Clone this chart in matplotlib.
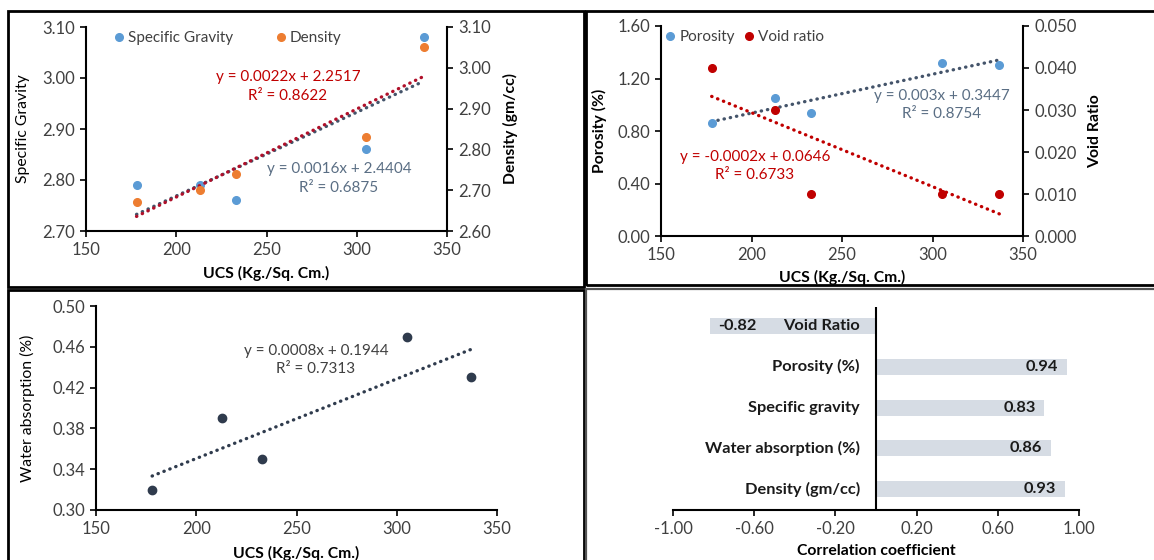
import numpy as np
import matplotlib
matplotlib.use("Agg")
import matplotlib.pyplot as plt
from matplotlib.lines import Line2D
from matplotlib.patches import Rectangle

plt.rcParams['font.family'] = ['Lato', 'DejaVu Sans']

# ---------------- data ----------------
ucs = [178, 213, 233, 305, 337]
specific_gravity = [2.79, 2.79, 2.76, 2.86, 3.08]
density = [2.67, 2.70, 2.74, 2.83, 3.05]
porosity = [0.86, 1.05, 0.94, 1.32, 1.30]
void_ratio = [0.040, 0.030, 0.010, 0.010, 0.010]
water_absorption = [0.32, 0.39, 0.35, 0.47, 0.43]

eq_sg = ["y = 0.0016x + 2.4404", "R\u00b2 = 0.6875"]
eq_den = ["y = 0.0022x + 2.2517", "R\u00b2 = 0.8622"]
eq_por = ["y = 0.003x + 0.3447", "R\u00b2 = 0.8754"]
eq_void = ["y = -0.0002x + 0.0646", "R\u00b2 = 0.6733"]
eq_wa = ["y = 0.0008x + 0.1944", "R\u00b2 = 0.7313"]

corr_labels = ["Density (gm/cc)", "Water absorption (%)", "Specific gravity", "Porosity (%)", "Void Ratio"]
corr_values = [0.93, 0.86, 0.83, 0.94, -0.82]

# ---------------- style ----------------
BLUE = "#5b9bd5"
ORANGE = "#ed7d31"
RED = "#c00000"
SLATE = "#44546a"
NAVY = "#2f3b4d"
TXT = "#404040"
FS = 10.5      # legend / equations
TFS = 12       # tick labels
LFS = 11.3     # axis labels
BFS = 11.8     # bar labels

W, H = 1154, 560
fig = plt.figure(figsize=(W / 100, H / 100), dpi=100)


def fr(left, top, right, bottom):
    return [left / W, 1 - bottom / H, (right - left) / W, (bottom - top) / H]


def style_axis(ax, spines=("left", "bottom")):
    for s in ["left", "right", "top", "bottom"]:
        ax.spines[s].set_visible(s in spines)
        ax.spines[s].set_color("black")
        ax.spines[s].set_linewidth(1.5)
    ax.tick_params(direction="out", length=4.5, width=1.2, colors="black",
                   labelcolor=TXT, labelsize=TFS)


def trend(ax, x, y, color):
    c = np.polyfit(x, y, 1)
    xs = np.array([min(x), max(x)])
    ax.plot(xs, np.polyval(c, xs), linestyle=(0, (0.1, 1.8)), color=color,
            linewidth=2.4, dash_capstyle="round", solid_capstyle="round")


fmt = lambda f: matplotlib.ticker.FormatStrFormatter(f)

# ---------------- panel 1 ----------------
ax1 = fig.add_axes(fr(86, 27, 447, 231))
ax1b = ax1.twinx()
style_axis(ax1, ("left", "bottom"))
style_axis(ax1b, ("right",))
ax1.set_xlim(150, 350)
ax1.set_ylim(2.70, 3.10)
ax1b.set_ylim(2.60, 3.10)
ax1.set_xticks([150, 200, 250, 300, 350])
ax1.set_yticks(np.arange(2.70, 3.101, 0.10))
ax1b.set_yticks(np.arange(2.60, 3.101, 0.10))
ax1.yaxis.set_major_formatter(fmt("%.2f"))
ax1b.yaxis.set_major_formatter(fmt("%.2f"))
trend(ax1, ucs, specific_gravity, SLATE)
trend(ax1b, ucs, density, "#b0102a")
ax1.plot(ucs, specific_gravity, "o", color=BLUE, markersize=5.5, zorder=5)
ax1b.plot(ucs, density, "o", color=ORANGE, markersize=5.5, zorder=5)
ax1.set_ylabel("Specific Gravity", fontsize=LFS, color="black")
ax1b.set_ylabel("Density (gm/cc)", fontsize=LFS, fontweight="bold", color="black")
ax1.set_xlabel("UCS (Kg./Sq. Cm.)", fontsize=LFS, fontweight="bold", color="black")
ax1.yaxis.set_label_coords(-0.156, 0.5)
ax1b.yaxis.set_label_coords(1.155, 0.5)
ax1.xaxis.set_label_coords(0.5, -0.17)
ax1.text(261.9, 3.002, eq_den[0], color=RED, fontsize=FS + 0.5, ha="center", va="center")
ax1.text(261.9, 2.965, eq_den[1], color=RED, fontsize=FS + 0.5, ha="center", va="center")
ax1.text(290.2, 2.822, eq_sg[0], color="#5a6e84", fontsize=FS + 0.5, ha="center", va="center")
ax1.text(290.2, 2.784, eq_sg[1], color="#5a6e84", fontsize=FS + 0.5, ha="center", va="center")
h1 = [Line2D([], [], marker="o", ls="", color=BLUE, markersize=5.5),
      Line2D([], [], marker="o", ls="", color=ORANGE, markersize=5.5)]
leg = ax1.legend(h1, ["Specific Gravity", "Density"], ncol=2, frameon=False,
                 loc="center left", bbox_to_anchor=(0.07, 0.946), fontsize=FS + 0.5,
                 handletextpad=0.1, columnspacing=2.6, handlelength=1.0,
                 borderaxespad=0, borderpad=0)
for t in leg.get_texts():
    t.set_color(TXT)

# ---------------- panel 2 ----------------
ax2 = fig.add_axes(fr(661, 26, 1023, 236))
ax2b = ax2.twinx()
style_axis(ax2, ("left", "bottom"))
style_axis(ax2b, ("right",))
ax2.set_xlim(150, 350)
ax2.set_ylim(0, 1.6)
ax2b.set_ylim(0, 0.05)
ax2.set_xticks([150, 200, 250, 300, 350])
ax2.set_yticks(np.arange(0, 1.601, 0.4))
ax2b.set_yticks(np.arange(0, 0.0501, 0.01))
ax2.yaxis.set_major_formatter(fmt("%.2f"))
ax2b.yaxis.set_major_formatter(fmt("%.3f"))
trend(ax2, ucs, porosity, SLATE)
trend(ax2b, ucs, void_ratio, RED)
ax2.plot(ucs, porosity, "o", color=BLUE, markersize=5.5, zorder=5)
ax2b.plot(ucs, void_ratio, "o", color=RED, markersize=5.5, zorder=5)
ax2.set_ylabel("Porosity (%)", fontsize=LFS, fontweight="bold", color="black")
ax2b.set_ylabel("Void Ratio", fontsize=LFS, fontweight="bold", color="black")
ax2.set_xlabel("UCS (Kg./Sq. Cm.)", fontsize=LFS, fontweight="bold", color="black")
ax2.yaxis.set_label_coords(-0.149, 0.5)
ax2b.yaxis.set_label_coords(1.18, 0.5)
ax2.xaxis.set_label_coords(0.5, -0.162)
ax2.text(305.2, 1.067, eq_por[0], color="#5a6e84", fontsize=FS + 0.5, ha="center", va="center")
ax2.text(305.2, 0.930, eq_por[1], color="#5a6e84", fontsize=FS + 0.5, ha="center", va="center")
ax2.text(201.9, 0.602, eq_void[0], color=RED, fontsize=FS + 0.5, ha="center", va="center")
ax2.text(201.9, 0.465, eq_void[1], color=RED, fontsize=FS + 0.5, ha="center", va="center")
h2 = [Line2D([], [], marker="o", ls="", color=BLUE, markersize=5.5),
      Line2D([], [], marker="o", ls="", color=RED, markersize=5.5)]
leg2 = ax2.legend(h2, ["Porosity", "Void ratio"], ncol=2, frameon=False,
                  loc="center left", bbox_to_anchor=(0.005, 0.948), fontsize=FS + 0.5,
                  handletextpad=0.1, columnspacing=0.4, handlelength=1.0,
                  borderaxespad=0, borderpad=0)
for t in leg2.get_texts():
    t.set_color(TXT)

# ---------------- panel 3 ----------------
ax3 = fig.add_axes(fr(96, 306, 497, 510))
style_axis(ax3, ("left", "bottom"))
ax3.set_xlim(150, 350)
ax3.set_ylim(0.30, 0.50)
ax3.set_xticks([150, 200, 250, 300, 350])
ax3.set_yticks(np.arange(0.30, 0.501, 0.04))
ax3.yaxis.set_major_formatter(fmt("%.2f"))
trend(ax3, ucs, water_absorption, NAVY)
ax3.plot(ucs, water_absorption, "o", color=NAVY, markersize=6, zorder=5)
ax3.set_ylabel("Water absorption (%)", fontsize=LFS, color="black")
ax3.set_xlabel("UCS (Kg./Sq. Cm.)", fontsize=LFS, fontweight="bold", color="black")
ax3.yaxis.set_label_coords(-0.152, 0.5)
ax3.xaxis.set_label_coords(0.5, -0.176)
ax3.text(259.7, 0.456, eq_wa[0], color=TXT, fontsize=FS + 0.5, ha="center", va="center")
ax3.text(259.7, 0.438, eq_wa[1], color=TXT, fontsize=FS + 0.5, ha="center", va="center")

# ---------------- panel 4 ----------------
ax4 = fig.add_axes(fr(673, 307, 1079, 510))
style_axis(ax4, ("bottom",))
ypos = np.arange(len(corr_labels))
ax4.barh(ypos, corr_values, height=0.39, color="#d6dce4", zorder=1)
ax4.set_xlim(-1.0, 1.0)
ax4.set_ylim(-0.515, 4.47)
ax4.set_xticks([-1.0, -0.6, -0.2, 0.2, 0.6, 1.0])
ax4.xaxis.set_major_formatter(fmt("%.2f"))
ax4.set_yticks([])
ax4.axvline(0, color="black", linewidth=1.5, zorder=3)
for yv, lab, v in zip(ypos, corr_labels, corr_values):
    ax4.text(-0.08, yv, lab, ha="right", va="center", fontsize=BFS,
             fontweight="bold", color="#1a1a1a", zorder=4)
    if v >= 0:
        ax4.text(v - 0.044, yv, "%.2f" % v, ha="right", va="center", fontsize=BFS,
                 fontweight="bold", color="#1a1a1a", zorder=4)
    else:
        ax4.text(v + 0.044, yv, "%.2f" % v, ha="left", va="center", fontsize=BFS,
                 fontweight="bold", color="#1a1a1a", zorder=4)
ax4.set_xlabel("Correlation coefficient", fontsize=LFS, fontweight="bold", color="black")
ax4.xaxis.set_label_coords(0.5, -0.167)

# ---------------- panel frames ----------------
def frame(x0, y0, x1, y1, lw=2.0, color="black"):
    fig.add_artist(Rectangle((x0 / W, 1 - y1 / H), (x1 - x0) / W, (y1 - y0) / H,
                             transform=fig.transFigure, fill=False,
                             linewidth=lw, edgecolor=color, clip_on=False))

frame(8, 11, 584, 287)
frame(586, 11, 1160, 285)
frame(8, 290, 584, 570)
frame(586, 289, 1160, 570, lw=1.6, color="#555555")

fig.savefig("out.png", dpi=100)
